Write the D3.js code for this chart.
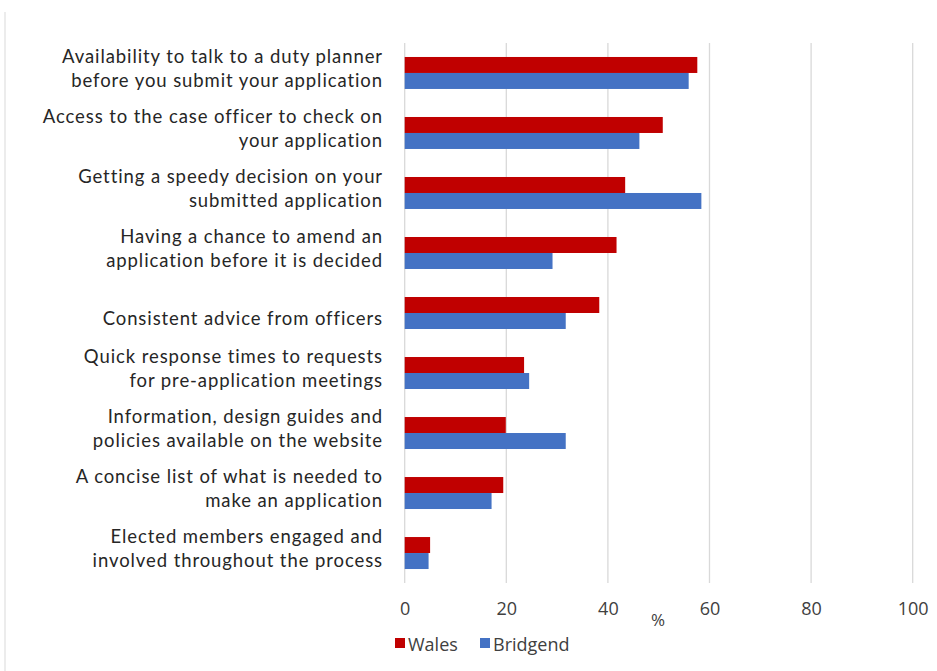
<!DOCTYPE html>
<html><head><meta charset="utf-8">
<script src="https://cdn.jsdelivr.net/npm/d3@7"></script>
<style>body{margin:0;background:#fff;} text{font-family:"Open Sans","Noto Sans",sans-serif;}</style>
</head><body>
<svg id="c" width="937" height="671"></svg>
<script>
const categories = [
  ["Availability to talk to a duty planner","before you submit your application"],
  ["Access to the case officer to check on","your application"],
  ["Getting a speedy decision on your","submitted application"],
  ["Having a chance to amend an","application before it is decided"],
  ["Consistent advice from officers"],
  ["Quick response times to requests","for pre-application meetings"],
  ["Information, design guides and","policies available on the website"],
  ["A concise list of what is needed to","make an application"],
  ["Elected members engaged and","involved throughout the process"]
];
const seriesNames = ["Wales","Bridgend"];
const wales    = [57.6, 50.8, 43.4, 41.7, 38.3, 23.5, 19.9, 19.4, 5.0];
const bridgend = [55.9, 46.2, 58.4, 29.1, 31.7, 24.5, 31.7, 17.1, 4.7];
const xTicks = [0,20,40,60,80,100];
const colors = ["#C00000","#4472C4"];

const svg = d3.select("#c");
const m = {left:404.7, right:912.7, top:43, bottom:583};
const x = d3.scaleLinear().domain([0,100]).range([m.left, m.right]);
const y = d3.scaleBand().domain(d3.range(categories.length)).range([m.top, m.bottom]).paddingInner(0.467).paddingOuter(0.233);
const ys = d3.scaleBand().domain([0,1]).range([0, y.bandwidth()]);

svg.append("line").attr("x1",5).attr("x2",5).attr("y1",12).attr("y2",671).attr("stroke","#d9d9d9");

svg.append("g").selectAll("line").data(xTicks).join("line")
  .attr("x1",d=>x(d)).attr("x2",d=>x(d)).attr("y1",m.top).attr("y2",m.bottom)
  .attr("stroke","#d9d9d9").attr("stroke-width",1.3);

const data = [wales, bridgend];
const g = svg.append("g");
const labels = [];
categories.forEach((c,i)=>{
  data.forEach((s,j)=>{
    g.append("rect").attr("x",x(0)).attr("y",y(i)+ys(j))
     .attr("width",x(s[i])-x(0)).attr("height",ys.bandwidth())
     .attr("fill",colors[j]);
  });
  const cy = y(i)+y.bandwidth()/2;
  const offs = c.length===1 ? [12] : [-10,14];
  c.forEach((line,k)=>{
    labels.push(svg.append("text").attr("x",383).attr("y",cy+offs[k])
      .attr("text-anchor","end").style("font-family","Lato, 'Open Sans', sans-serif")
      .attr("font-size",18.5).attr("fill","#262626").text(line));
  });
});
const t0 = labels[0];
const w0 = t0.node().getComputedTextLength();
const ls = (321 - w0) / (categories[0][0].length);
labels.forEach(t=>t.style("letter-spacing", ls+"px"));

const ax = svg.append("g").attr("transform",`translate(0,${m.bottom})`)
  .call(d3.axisBottom(x).tickValues(xTicks).tickSize(0).tickPadding(19));
ax.select(".domain").remove();
ax.selectAll("text").attr("font-size",18).attr("fill","#404040").attr("font-family","Open Sans, Noto Sans, sans-serif");

svg.append("text").attr("x",658).attr("y",626).attr("text-anchor","middle")
  .attr("font-size",17).attr("fill","#404040").text("%");

const leg = svg.append("g");
const lx = [395, 480];
seriesNames.forEach((n,j)=>{
  leg.append("rect").attr("x",lx[j]).attr("y",638).attr("width",10).attr("height",10).attr("fill",colors[j]);
  leg.append("text").attr("x",lx[j]+13).attr("y",651).attr("font-size",18).attr("fill","#404040").text(n);
});
</script>
</body></html>
